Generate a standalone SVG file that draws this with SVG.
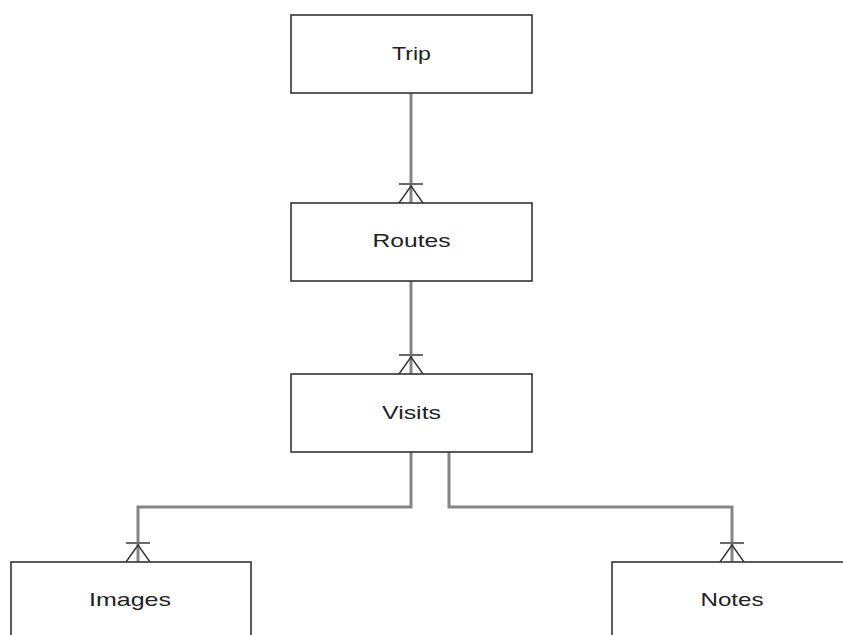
<svg xmlns="http://www.w3.org/2000/svg" width="843" height="635" viewBox="0 0 843 635">
  <style>
    .box { fill: #ffffff; stroke: #333333; stroke-width: 1.6; }
    .label { font-family: "Liberation Sans", Arial, sans-serif; font-size: 18.5px; fill: #222222; text-anchor: middle; }
    .link { fill: none; stroke: #858585; stroke-width: 3; }
    .foot { fill: none; stroke: #333333; stroke-width: 1.4; }
    .bar { stroke: #6a6a6a; stroke-width: 2; }
  </style>
  <defs>
    <!-- crow's foot "one or many" end, tip at the entity's top edge -->
    <g id="crowfoot">
      <line class="bar" x1="-12" y1="-19" x2="12" y2="-19"/>
      <polyline class="foot" points="-12,0 0,-17 12,0"/>
    </g>
  </defs>
  <rect width="843" height="635" fill="#ffffff"/>

  <g id="connectors">
    <line class="link" x1="411" y1="93" x2="411" y2="203"/>
    <line class="link" x1="411" y1="281" x2="411" y2="374"/>
    <polyline class="link" points="411,452 411,507 138,507 138,562"/>
    <polyline class="link" points="449,452 449,507 732,507 732,562"/>
    <use href="#crowfoot" x="411" y="203"/>
    <use href="#crowfoot" x="411" y="374"/>
    <use href="#crowfoot" x="138" y="562"/>
    <use href="#crowfoot" x="732" y="562"/>
  </g>

  <g id="trip">
    <rect class="box" x="291" y="15" width="241" height="78"/>
    <text class="label" x="411.5" y="60" textLength="39" lengthAdjust="spacingAndGlyphs">Trip</text>
  </g>
  <g id="routes">
    <rect class="box" x="291" y="203" width="241" height="78"/>
    <text class="label" x="411.5" y="247" textLength="78" lengthAdjust="spacingAndGlyphs">Routes</text>
  </g>
  <g id="visits">
    <rect class="box" x="291" y="374" width="241" height="78"/>
    <text class="label" x="411.5" y="419" textLength="59" lengthAdjust="spacingAndGlyphs">Visits</text>
  </g>
  <g id="images">
    <rect class="box" x="11" y="562" width="240" height="90"/>
    <text class="label" x="130" y="606" textLength="82" lengthAdjust="spacingAndGlyphs">Images</text>
  </g>
  <g id="notes">
    <rect class="box" x="612" y="562" width="240" height="90"/>
    <text class="label" x="732" y="606" textLength="63" lengthAdjust="spacingAndGlyphs">Notes</text>
  </g>
</svg>
